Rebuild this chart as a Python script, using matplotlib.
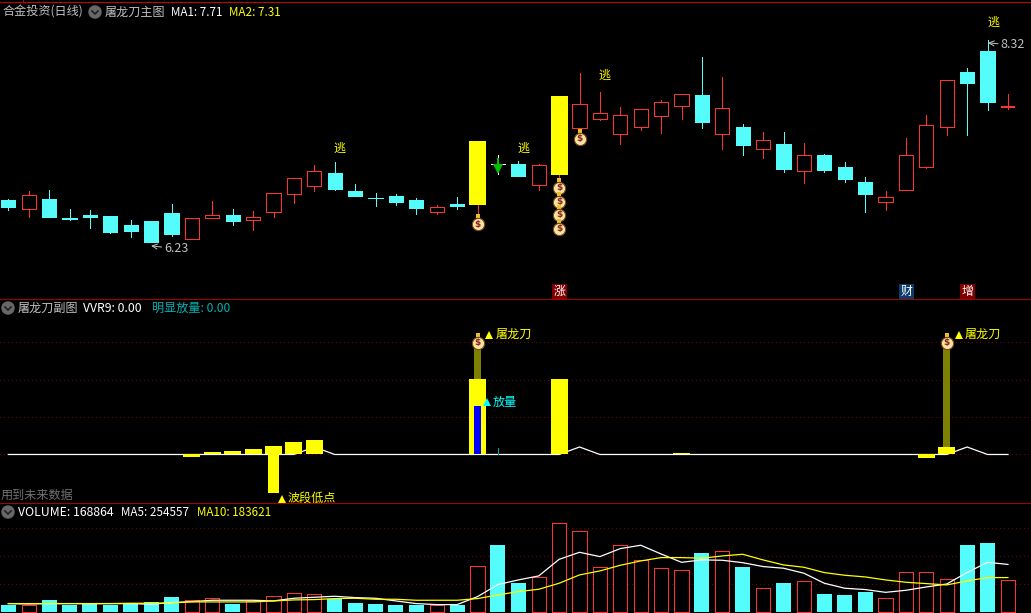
"""
plot.py - candlestick screen with two indicator panels, saved as out.png
"""

import matplotlib
matplotlib.use("Agg")
import matplotlib.pyplot as plt
from matplotlib.lines import Line2D
from matplotlib.patches import Circle, Rectangle
from matplotlib.transforms import IdentityTransform, ScaledTranslation

plt.rcParams["font.family"] = ["Noto Sans CJK SC", "DejaVu Sans"]

# ---------------------------------------------------------------------------
# Data
# ---------------------------------------------------------------------------

OPEN = [6.665, 6.572, 6.675, 6.478, 6.509, 6.499, 6.406, 6.447, 6.530, 6.261,
        6.478, 6.509, 6.453, 6.540, 6.727, 6.809, 6.944, 6.758, 6.690, 6.706,
        6.665, 6.540, 6.623, 6.613, 7.037, 7.037, 6.820, 6.923, 7.410, 7.503,
        7.347, 7.420, 7.534, 7.637, 7.751, 7.347, 7.420, 7.192, 7.244, 6.965,
        7.130, 7.006, 6.851, 6.644, 6.768, 7.006, 7.420, 7.989, 8.206, 7.617]
CLOSE = [6.592, 6.716, 6.489, 6.468, 6.489, 6.333, 6.344, 6.230, 6.313, 6.478,
         6.509, 6.447, 6.484, 6.737, 6.892, 6.965, 6.778, 6.706, 6.680, 6.644,
         6.582, 6.592, 6.603, 7.275, 7.037, 6.913, 7.027, 7.741, 7.658, 7.565,
         7.544, 7.606, 7.679, 7.761, 7.472, 7.617, 7.234, 7.285, 6.985, 7.130,
         6.975, 6.882, 6.727, 6.696, 7.130, 7.441, 7.906, 7.875, 7.679, 7.637]
HIGH = [6.675, 6.758, 6.768, 6.572, 6.561, 6.499, 6.458, 6.447, 6.623, 6.478,
        6.654, 6.572, 6.551, 6.737, 6.892, 7.027, 7.058, 6.830, 6.737, 6.727,
        6.685, 6.613, 6.696, 7.275, 7.130, 7.068, 7.037, 7.741, 7.979, 7.782,
        7.627, 7.606, 7.699, 7.761, 8.144, 7.937, 7.451, 7.368, 7.368, 7.254,
        7.141, 7.058, 6.903, 6.758, 7.306, 7.544, 7.906, 8.030, 8.320, 7.761]
LOW = [6.561, 6.489, 6.489, 6.458, 6.375, 6.323, 6.282, 6.230, 6.292, 6.261,
       6.478, 6.406, 6.354, 6.489, 6.634, 6.758, 6.768, 6.706, 6.603, 6.613,
       6.520, 6.520, 6.572, 6.499, 6.934, 6.913, 6.768, 6.872, 7.410, 7.492,
       7.244, 7.389, 7.358, 7.503, 7.410, 7.192, 7.130, 7.099, 6.954, 6.840,
       6.954, 6.851, 6.540, 6.561, 6.768, 6.996, 7.337, 7.337, 7.596, 7.606]

YELLOW_CANDLES = [23, 27]
CROSS_CANDLE = 24
THICK_CANDLE = 49

# money bags on the main panel: (candle, price)
BAGS_MAIN = [(23, 6.416), (28, 7.30), (27, 6.79), (27, 6.645), (27, 6.51), (27, 6.365)]
ESCAPE_LABELS = [(16, 7.20), (25, 7.20), (29, 7.95)]
BADGES = [(27, "涨", "#800000"), (44, "财", "#0c3c6c"), (47, "增", "#800000")]

# sub panel
SUB_GRID = [0, 25, 50, 75]
SUB_UP_IDX = [10, 11, 12, 13, 14, 15, 23, 27, 33, 46]
SUB_UP_VAL = [1.5, 2.2, 3.5, 5.5, 8.2, 9.6, 50.5, 50.5, 1.0, 5.0]
SUB_DOWN_IDX = [9, 45]
SUB_DOWN_VAL = [-1.8, -2.3]
LOW_POINT = (13, -26)
OLIVE_IDX = [23, 46]
OLIVE_VAL = [70.5, 70.5]
BLUE = (23, 32.4)
TEAL = (24, 4)
VVR9 = [0] * 50
VVR9[15], VVR9[28], VVR9[47] = 5, 5, 5

# volume panel
VOL_GRID = [150000, 300000, 450000]
VOLUME = [36000, 37800, 63000, 36000, 45000, 36000, 45000, 52000, 79000, 63000,
          72000, 41000, 57500, 83000, 99000, 93500, 68000, 47000, 41000, 36000,
          36000, 37800, 36000, 245000, 360000, 155000, 185000, 477000, 433000, 239000,
          358000, 277000, 234000, 223000, 317000, 326000, 241000, 126000, 155000, 164000,
          95000, 90000, 106000, 72000, 212000, 212000, 174000, 360000, 371000, 168864]
MA5 = [43200, 41400, 43200, 43200, 43200, 43200, 43200, 39600, 48600, 54000,
       61200, 61200, 61200, 57600, 72000, 77400, 82800, 75600, 72000, 57600,
       43200, 37800, 37800, 81000, 145700, 170900, 192500, 282000, 320000, 296800,
       340000, 358000, 311000, 266000, 279000, 277000, 264000, 243000, 234000, 207000,
       153000, 126000, 119000, 104000, 115000, 133000, 149000, 211000, 266000, 254557]
MA10 = [43200, 43200, 43200, 43200, 43200, 43200, 45000, 45000, 46800, 52200,
        52200, 52200, 52200, 57600, 63000, 64800, 70200, 72000, 66600, 66600,
        61200, 61200, 61200, 70200, 90000, 108000, 120500, 152900, 197900, 219500,
        250000, 273400, 291400, 291400, 287800, 300400, 309400, 278800, 251900, 239300,
        210500, 196100, 187100, 170900, 158300, 151100, 143900, 165500, 183621, 183621]

# ---------------------------------------------------------------------------
# Style
# ---------------------------------------------------------------------------

W, H = 1031, 613
RED = "#ff3232"
CYAN = "#54fcfc"
YELLOW = "#ffff00"
GRID = "#700000"
SEP = "#a80000"
GRAY = "#c0c0c0"
X_LIM = (-0.407, 50.13)
CJK = 8.7
PX = 0.72   # one pixel line


def make_axes(fig, top, bottom, ylim):
    ax = fig.add_axes([0, 1 - bottom / H, 1, (bottom - top) / H])
    ax.set_xlim(*X_LIM)
    ax.set_ylim(*ylim)
    ax.set_axis_off()
    return ax


def draw_icon(fig, x, y):
    # display units are the pixels of the picture, the figure stays at dpi 100
    px = IdentityTransform()
    fig.add_artist(Circle((x, H - y), 6, color="#686868", transform=px))
    fig.add_artist(Line2D([x - 3, x, x + 3], [H - y + 1, H - y - 2, H - y + 1],
                          color="#202020", lw=1.2, transform=px))


def put(fig, x, y, s, color=GRAY, size=CJK):
    fig.text(x / W, 1 - y / H, s, color=color, fontsize=size, va="center", ha="left")


def draw_bag(ax, i, y):
    neck = ax.transData + ScaledTranslation(0, 5.6 / 72, ax.figure.dpi_scale_trans)
    ax.plot([i], [y], marker="s", ms=3.2, color="#e8c030", mew=0, zorder=6, transform=neck)
    ax.plot([i], [y], marker="o", ms=8.8, mfc="#f8e4a0", mec="#7a4a18", mew=0.8, zorder=6)
    ax.text(i, y, "$", color="#8c2020", fontsize=6.5, fontweight="bold",
            family="DejaVu Sans", ha="center", va="center", zorder=7)


def draw_candles(ax):
    for i in range(len(OPEN)):
        up = CLOSE[i] >= OPEN[i]
        color = RED if up else CYAN
        if i == CROSS_CANDLE:
            color = "#ffffff"
        ax.vlines(i, LOW[i], HIGH[i], color=color, lw=PX, antialiased=False, zorder=2)
        if i in YELLOW_CANDLES:
            ax.bar(i, CLOSE[i] - OPEN[i], 0.833, OPEN[i], color=YELLOW, lw=0, antialiased=False, zorder=3)
        elif i == CROSS_CANDLE:
            ax.hlines(OPEN[i], i - 0.35, i + 0.35, color=color, lw=PX, antialiased=False, zorder=3)
        elif i == THICK_CANDLE:
            ax.hlines(OPEN[i] + 0.01, i - 0.36, i + 0.36, color=color, lw=2 * PX, antialiased=False, zorder=3)
        elif up:
            ax.bar(i, CLOSE[i] - OPEN[i], 0.70, OPEN[i], facecolor="black", edgecolor=RED,
                   lw=PX, antialiased=False, zorder=3)
        else:
            ax.bar(i, OPEN[i] - CLOSE[i], 0.70, CLOSE[i], facecolor=CYAN, edgecolor=CYAN,
                   lw=PX, antialiased=False, zorder=3)


def draw_main(fig):
    ax = make_axes(fig, 0, 299, (5.640, 8.734))
    draw_candles(ax)

    # green arrow on the cross candle
    ax.vlines(CROSS_CANDLE, 6.98, 7.10, color="#00c000", lw=2 * PX, antialiased=False, zorder=5)
    ax.plot([CROSS_CANDLE], [6.985], marker="v", ms=7, color="#00c000", mew=0, zorder=5)

    for i, y in BAGS_MAIN:
        draw_bag(ax, i, y)
    for i, y in ESCAPE_LABELS:
        ax.text(i + 0.25, y, "逃", color=YELLOW, fontsize=CJK, ha="center", va="center", zorder=5)

    # this label is cut off by the header strip in the reference
    cut = ax.text(48.27, 8.506, "逃", color=YELLOW, fontsize=CJK, ha="center", va="center", zorder=5)
    cut.set_clip_path(Rectangle((47, 7.0), 3, 1.517, transform=ax.transData))

    # highest / lowest price flags
    ax.annotate("8.32", xy=(48.02, 8.29), xytext=(48.65, 8.27), color=GRAY, fontsize=9,
                va="center", arrowprops=dict(arrowstyle="->", color=GRAY, lw=PX, shrinkA=0, shrinkB=0))
    ax.annotate("6.23", xy=(7.0, 6.19), xytext=(7.65, 6.16), color=GRAY, fontsize=9,
                va="center", arrowprops=dict(arrowstyle="->", color=GRAY, lw=PX, shrinkA=0, shrinkB=0))

    for i, s, c in BADGES:
        ax.text(i + 0.02, 5.718, s, color="white", fontsize=8.6, ha="center", va="center", zorder=5,
                bbox=dict(boxstyle="square,pad=0.12", fc=c, ec="none"))


def draw_sub(fig):
    ax = make_axes(fig, 299, 503, (-32.42, 103.9))
    ax.hlines(SUB_GRID, *X_LIM, color=GRID, lw=PX, linestyles=(0, (1, 4)), antialiased=False, zorder=1)
    ax.plot(range(len(VVR9)), VVR9, color="white", lw=0.9, zorder=2)

    ax.bar(OLIVE_IDX, OLIVE_VAL, 0.34, color="#808000", lw=0, antialiased=False, zorder=3)
    ax.bar(SUB_UP_IDX, SUB_UP_VAL, 0.833, color=YELLOW, lw=0, antialiased=False, zorder=4)
    ax.bar(SUB_DOWN_IDX, SUB_DOWN_VAL, 0.833, color=YELLOW, lw=0, antialiased=False, zorder=4)
    ax.bar(LOW_POINT[0], LOW_POINT[1], 0.54, color=YELLOW, lw=0, antialiased=False, zorder=4)
    ax.bar(BLUE[0], BLUE[1], 0.34, color="#0000ff", lw=0, antialiased=False, zorder=5)
    ax.vlines(TEAL[0], 0, TEAL[1], color="#00a8a8", lw=PX, antialiased=False, zorder=5)

    ax.plot([LOW_POINT[0] + 0.41], [-29.6], marker="^", ms=6, color=YELLOW, mew=0, zorder=6)
    ax.text(LOW_POINT[0] + 0.71, -29.4, "波段低点", color=YELLOW, fontsize=CJK,
            va="center", clip_on=True, zorder=6)
    ax.plot([BLUE[0] + 0.44], [35], marker="^", ms=6, color="#00ffff", mew=0, zorder=6)
    ax.text(BLUE[0] + 0.73, 35, "放量", color="#00ffff", fontsize=CJK, va="center", zorder=6)
    for i in OLIVE_IDX:
        draw_bag(ax, i, 74.5)
        ax.plot([i + 0.58], [80], marker="^", ms=6, color=YELLOW, mew=0, zorder=6)
        ax.text(i + 0.87, 80.5, "屠龙刀", color=YELLOW, fontsize=CJK, va="center", zorder=6)


def draw_volume(fig):
    ax = make_axes(fig, 503, 613, (-7554, 586000))
    ax.hlines(VOL_GRID, *X_LIM, color=GRID, lw=PX, linestyles=(0, (1, 4)), antialiased=False, zorder=1)
    for i, v in enumerate(VOLUME):
        # the flat cross day counts as a falling day here
        if CLOSE[i] > OPEN[i]:
            ax.bar(i, v, 0.70, facecolor="black", edgecolor=RED, lw=PX, antialiased=False, zorder=2)
        else:
            ax.bar(i, v, 0.735, color=CYAN, lw=0, antialiased=False, zorder=2)
    ax.plot(range(len(MA5)), MA5, color="white", lw=0.9, zorder=3)
    ax.plot(range(len(MA10)), MA10, color=YELLOW, lw=0.9, zorder=3)


def main():
    fig = plt.figure(figsize=(W / 100, H / 100), dpi=100, facecolor="black")

    draw_main(fig)
    draw_sub(fig)
    draw_volume(fig)

    # panel separators
    for y, c in [(2, "#c80000"), (299, SEP), (503, SEP)]:
        fig.add_artist(Line2D([0, 1], [1 - y / H, 1 - y / H], color=c, lw=PX, antialiased=False))
    fig.add_artist(Line2D([23 / W, 23 / W], [1 - 2 / H, 1], color="#c80000", lw=PX, antialiased=False))

    # headers
    put(fig, 3, 12, "合金投资(日线)")
    draw_icon(fig, 95, 12)
    put(fig, 105, 12, "屠龙刀主图")
    put(fig, 171, 12, "MA1: 7.71", "white", 8.4)
    put(fig, 229, 12, "MA2: 7.31", YELLOW, 8.4)

    draw_icon(fig, 8, 308)
    put(fig, 18, 308, "屠龙刀副图")
    put(fig, 83, 308, "VVR9: 0.00", "white", 8.8)
    put(fig, 152, 308, "明显放量: 0.00", "#00b4b4")
    put(fig, 1, 495, "用到未来数据", "#707070")

    draw_icon(fig, 8, 512)
    put(fig, 18, 512, "VOLUME: 168864", "white", 8.8)
    put(fig, 121, 512, "MA5: 254557", "white", 8.4)
    put(fig, 197, 512, "MA10: 183621", YELLOW, 8.4)

    fig.savefig("out.png", dpi=100, facecolor="black")
    plt.close(fig)


if __name__ == "__main__":
    main()
